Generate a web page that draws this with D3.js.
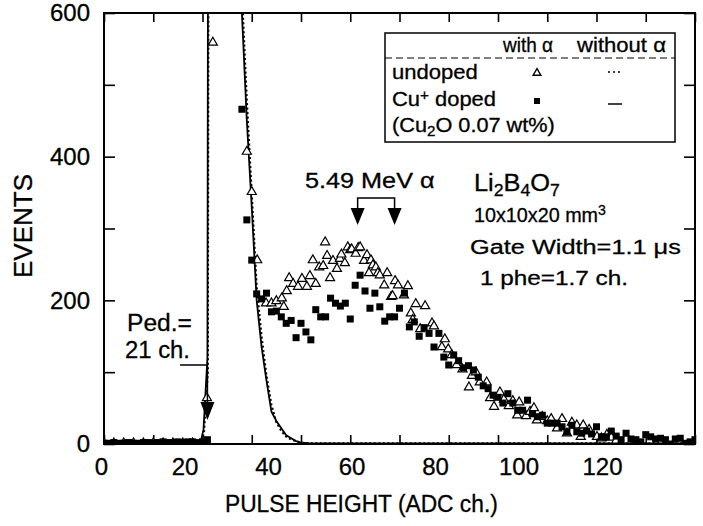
<!DOCTYPE html>
<html><head><meta charset="utf-8">
<script src="https://cdn.jsdelivr.net/npm/d3@7"></script>
<style>
body{margin:0;background:#fff}
svg{display:block}
text{font-family:"Liberation Sans",Arial,Helvetica,sans-serif;fill:#000;stroke:#000;stroke-width:0.3}
</style>
</head><body>
<svg id="c" width="703" height="526"></svg>
<script>
// ---------------- DATA ----------------
const xTickValues = [0,10,20,30,40,50,60,70,80,90,100,110,120];
const xTickLabels = [0,20,40,60,80,100,120];
const yTickValues = [0,100,200,300,400,500,600];
const yTickLabels = [0,200,400,600];

// Cu+ doped, with alpha (filled squares): channel / events
const cuAlphaCh = [0,1,2,3,4,5,6,7,8,9,10,11,12,13,14,15,16,17,18,19,20,21,
  28,29,30,31,32,33,34,35,36,37,38,39,40,41,42,43,44,45,46,47,48,49,50,51,52,53,54,55,56,57,58,59,60,
  61,62,63,64,65,66,67,68,69,70,71,72,73,74,75,76,77,78,79,80,81,82,83,84,85,86,87,88,89,90,
  91,92,93,94,95,96,97,98,99,100,101,102,103,104,105,106,107,108,109,110,111,112,113,114,115,116,117,118,119,120];
const cuAlphaEv = [1,1,2,1,1,2,1,1,2,2,1,2,3,2,2,3,2,3,3,2,3,6,
  466,312,256,209,202,210,184,185,177,168,172,148,168,156,145,187,177,177,203,196,192,196,174,221,235,213,189,210,191,171,177,177,189,
  210,163,170,150,162,154,135,154,121,110,124,116,106,109,103,93,81,77,68,65,57,70,57,47,47,61,42,38,40,29,
  29,29,24,17,26,17,15,18,14,24,10,10,18,11,6,15,7,6,3,13,10,7,8,6,0,7,8,1,3,6];

// undoped, with alpha (open triangles): channel / events
const undAlphaCh = [0,2,4,6,8,10,12,14,16,18,20,20.9,22.1,29.0,30.0,31.1,32.9,34.0,35.0,36.1,36.5,37.1,37.6,38.4,39.4,40.2,41.2,41.8,42.4,43.0,
  43.7,44.5,44.9,45.3,45.9,46.5,47.3,47.9,48.2,48.9,49.5,50.0,50.3,51.1,51.6,52.0,52.8,53.4,53.8,54.2,54.6,55.2,55.6,56.0,56.9,57.5,58.3,58.6,59.1,59.7,
  60.9,61.7,62.3,62.7,63.3,64.2,65.2,66.6,67.0,68.6,69.2,69.9,70.6,71.6,72.8,74.1,74.7,75.5,76.3,77.7,78.4,79.2,80.4,81.2,82.2,83.0,83.9,84.3,85.7,86.5,
  87.3,87.9,89.0,90.0,90.8,92.0,93.0,94.0,95.0,96.0,96.8,97.3,98.5,100.1,101.0,102.1,103.0,104.0];
const undAlphaEv = [1,1,1,1,1,1,1,1,1,1,2,64,559,407,351,256,196,196,199,203,191,213,231,223,219,230,219,234,256,223,
  246,248,281,262,231,255,244,258,264,252,274,270,271,265,273,274,255,263,238,256,249,246,238,235,221,238,205,206,227,221,
  207,220,182,173,195,160,192,168,164,135,146,132,124,110,104,79,95,100,86,86,64,52,72,62,53,60,40,58,39,45,
  50,33,38,32,35,22,35,15,30,26,10,26,20,10,8,13,9,5];

// Cu+ doped, without alpha (solid line)
const cuNoAlphaCh = [0,5,10,15,19,19.6,20.2,21,21.6,27.5,28,29,30,31,32,33,34,35,36,37,38,39,40,42,45,50,60,70,80,90,100,110,120];
const cuNoAlphaEv = [1,1,1,1,1,2,20,120,3000,3000,600,450,330,200,135,88,45,32,22,12,8,4,2,1,1,1,1,1,1,1,1,1,1];

// undoped, without alpha (dotted line)
const undNoAlphaCh = [0,5,10,15,19,19.7,20.3,21.1,21.7,27.7,28.2,29,30,31,32,33,34,35,36,37,38,39,40,42,45,50,60,70,80,90,100,110,120];
const undNoAlphaEv = [1,1,1,1,1,2,15,100,3000,3000,600,480,350,220,150,95,55,30,18,10,6,4,2,1,1,1,1,1,1,1,1,1,1];

// ---------------- LAYOUT ----------------
const L = 104, R = 695, T = 13, B = 444;
const svg = d3.select("#c");
const x = d3.scaleLinear().domain([0,120]).range([L,R]);
const y = d3.scaleLinear().domain([0,600]).range([B,T]);
// tick labels in the original figure sit on a narrower spacing than the ticks
const xLab = d3.scaleLinear().domain([0,120]).range([101,602]);

function fit(sel, width){
  sel.each(function(){
    const bb = this.getBBox();
    const s = width / bb.width;
    const x0 = bb.x;
    d3.select(this).attr("transform", `translate(${x0},0) scale(${s},1) translate(${-x0},0)`);
  });
}

svg.append("defs").append("clipPath").attr("id","clip")
  .append("rect").attr("x",L).attr("y",T).attr("width",R-L).attr("height",B-T);

// ---------------- AXES ----------------
const gB = svg.append("g").attr("transform",`translate(0,${B})`)
  .call(d3.axisBottom(x).tickValues(xTickValues).tickSize(-9).tickFormat(""));
const gT = svg.append("g").attr("transform",`translate(0,${T})`)
  .call(d3.axisTop(x).tickValues(xTickValues).tickSize(-9).tickFormat(""));
const gL = svg.append("g").attr("transform",`translate(${L},0)`)
  .call(d3.axisLeft(y).tickValues(yTickValues).tickSize(-11).tickFormat(""));
const gR = svg.append("g").attr("transform",`translate(${R},0)`)
  .call(d3.axisRight(y).tickValues(yTickValues).tickSize(-11).tickFormat(""));
[gB,gT,gL,gR].forEach(g=>{
  g.select(".domain").remove();
  g.selectAll(".tick line").attr("stroke","#000").attr("stroke-width",1.6);
});
svg.append("rect").attr("x",L).attr("y",T).attr("width",R-L).attr("height",B-T)
  .attr("fill","none").attr("stroke","#000").attr("stroke-width",2);

// tick labels
const gXL = svg.append("g").attr("transform",`translate(0,${B})`)
  .call(d3.axisBottom(xLab).tickValues(xTickLabels).tickSize(0).tickPadding(14).tickFormat(d3.format("d")));
gXL.select(".domain").remove();
gXL.selectAll("text").attr("font-size",24).attr("font-family","Liberation Sans, Arial, sans-serif").attr("fill","#000");
const gYL = svg.append("g").attr("transform",`translate(${L},0)`)
  .call(d3.axisLeft(y).tickValues(yTickLabels).tickSize(0).tickPadding(14).tickFormat(d3.format("d")));
gYL.select(".domain").remove();
gYL.selectAll("text").attr("font-size",24).attr("font-family","Liberation Sans, Arial, sans-serif").attr("fill","#000");

// axis titles
fit(svg.append("text").attr("x",225).attr("y",512).attr("font-size",23).text("PULSE HEIGHT (ADC ch.)"),273);
svg.append("text").attr("transform","translate(32,226) rotate(-90)").attr("text-anchor","middle")
  .attr("font-size",26).text("EVENTS");

// ---------------- DATA MARKS ----------------
const plot = svg.append("g").attr("clip-path","url(#clip)");
const line = d3.line().x(d=>x(d[0])).y(d=>y(d[1]));
plot.append("path").datum(d3.zip(undNoAlphaCh,undNoAlphaEv)).attr("d",line)
  .attr("fill","none").attr("stroke","#000").attr("stroke-width",2).attr("stroke-dasharray","2,2.5");
plot.append("path").datum(d3.zip(cuNoAlphaCh,cuNoAlphaEv)).attr("d",line)
  .attr("fill","none").attr("stroke","#000").attr("stroke-width",1.8);

const tri = d3.symbol().type(d3.symbolTriangle).size(36);
plot.append("g").selectAll("path").data(d3.zip(undAlphaCh,undAlphaEv)).join("path")
  .attr("d",tri).attr("transform",d=>`translate(${x(d[0])},${y(d[1])})`)
  .attr("fill","#fff").attr("stroke","#000").attr("stroke-width",1.2);

const sq = 7;
plot.append("g").selectAll("rect").data(d3.zip(cuAlphaCh,cuAlphaEv)).join("rect")
  .attr("x",d=>x(d[0])-sq/2).attr("y",d=>y(d[1])-sq/2).attr("width",sq).attr("height",sq)
  .attr("fill","#000");

// ---------------- ANNOTATIONS ----------------
const pedX = x(21);
svg.append("path").attr("d",`M180,365 H${pedX} V404`).attr("fill","none").attr("stroke","#000").attr("stroke-width",1.5);
svg.append("path").attr("d",`M${pedX-7},402 L${pedX+7},402 L${pedX},420 Z`).attr("fill","#000");
fit(svg.append("text").attr("x",127).attr("y",331).attr("font-size",24).text("Ped.="),65);
fit(svg.append("text").attr("x",125).attr("y",358).attr("font-size",24).text("21 ch."),65);

const a1 = x(51.5), a2 = x(59), aTop = 198, aTip = y(305);
svg.append("path").attr("d",`M${a1},${aTip-10} V${aTop} H${a2} V${aTip-10}`)
  .attr("fill","none").attr("stroke","#000").attr("stroke-width",1.5);
[a1,a2].forEach(ax=>{
  svg.append("path").attr("d",`M${ax-7},${aTip-17} L${ax+7},${aTip-17} L${ax},${aTip} Z`).attr("fill","#000");
});
fit(svg.append("text").attr("x",305).attr("y",188).attr("font-size",22).text("5.49 MeV α"),130);

const li = svg.append("text").attr("x",474).attr("y",191).attr("font-size",23);
li.append("tspan").text("Li");
li.append("tspan").attr("font-size",16).attr("dy",5).text("2");
li.append("tspan").attr("dy",-5).text("B");
li.append("tspan").attr("font-size",16).attr("dy",5).text("4");
li.append("tspan").attr("dy",-5).text("O");
li.append("tspan").attr("font-size",16).attr("dy",5).text("7");
fit(li,86);
const dim = svg.append("text").attr("x",474).attr("y",222).attr("font-size",21);
dim.append("tspan").text("10x10x20 mm");
dim.append("tspan").attr("font-size",15).attr("dy",-7).text("3");
fit(dim,132);
fit(svg.append("text").attr("x",470).attr("y",254).attr("font-size",21).text("Gate Width=1.1 μs"),211);
fit(svg.append("text").attr("x",480).attr("y",285).attr("font-size",21).text("1 phe=1.7 ch."),148);

// ---------------- LEGEND ----------------
svg.append("rect").attr("x",385).attr("y",33).attr("width",290).attr("height",109)
  .attr("fill","#fff").attr("stroke","#000").attr("stroke-width",1.5);
svg.append("line").attr("x1",385).attr("x2",675).attr("y1",58).attr("y2",58)
  .attr("stroke","#000").attr("stroke-width",1).attr("stroke-dasharray","7,4");
fit(svg.append("text").attr("x",503).attr("y",52).attr("font-size",20).text("with α"),51);
fit(svg.append("text").attr("x",577).attr("y",52).attr("font-size",20).text("without α"),90);
fit(svg.append("text").attr("x",392).attr("y",79).attr("font-size",20).text("undoped"),86);
const cu = svg.append("text").attr("x",392).attr("y",106).attr("font-size",20);
cu.append("tspan").text("Cu");
cu.append("tspan").attr("font-size",14).attr("dy",-6).text("+");
cu.append("tspan").attr("dy",6).text(" doped");
fit(cu,104);
const cu2o = svg.append("text").attr("x",392).attr("y",132).attr("font-size",20);
cu2o.append("tspan").text("(Cu");
cu2o.append("tspan").attr("font-size",14).attr("dy",4).text("2");
cu2o.append("tspan").attr("dy",-4).text("O 0.07 wt%)");
fit(cu2o,163);
svg.append("path").attr("d",d3.symbol().type(d3.symbolTriangle).size(26)).attr("transform","translate(537,73)")
  .attr("fill","#fff").attr("stroke","#000").attr("stroke-width",1.4);
svg.append("rect").attr("x",534).attr("y",98).attr("width",6).attr("height",6).attr("fill","#000");
svg.append("line").attr("x1",608).attr("x2",622).attr("y1",72).attr("y2",72)
  .attr("stroke","#000").attr("stroke-width",1.5).attr("stroke-dasharray","2,3");
svg.append("line").attr("x1",608).attr("x2",622).attr("y1",104).attr("y2",104)
  .attr("stroke","#000").attr("stroke-width",1.5);
</script>
</body></html>
